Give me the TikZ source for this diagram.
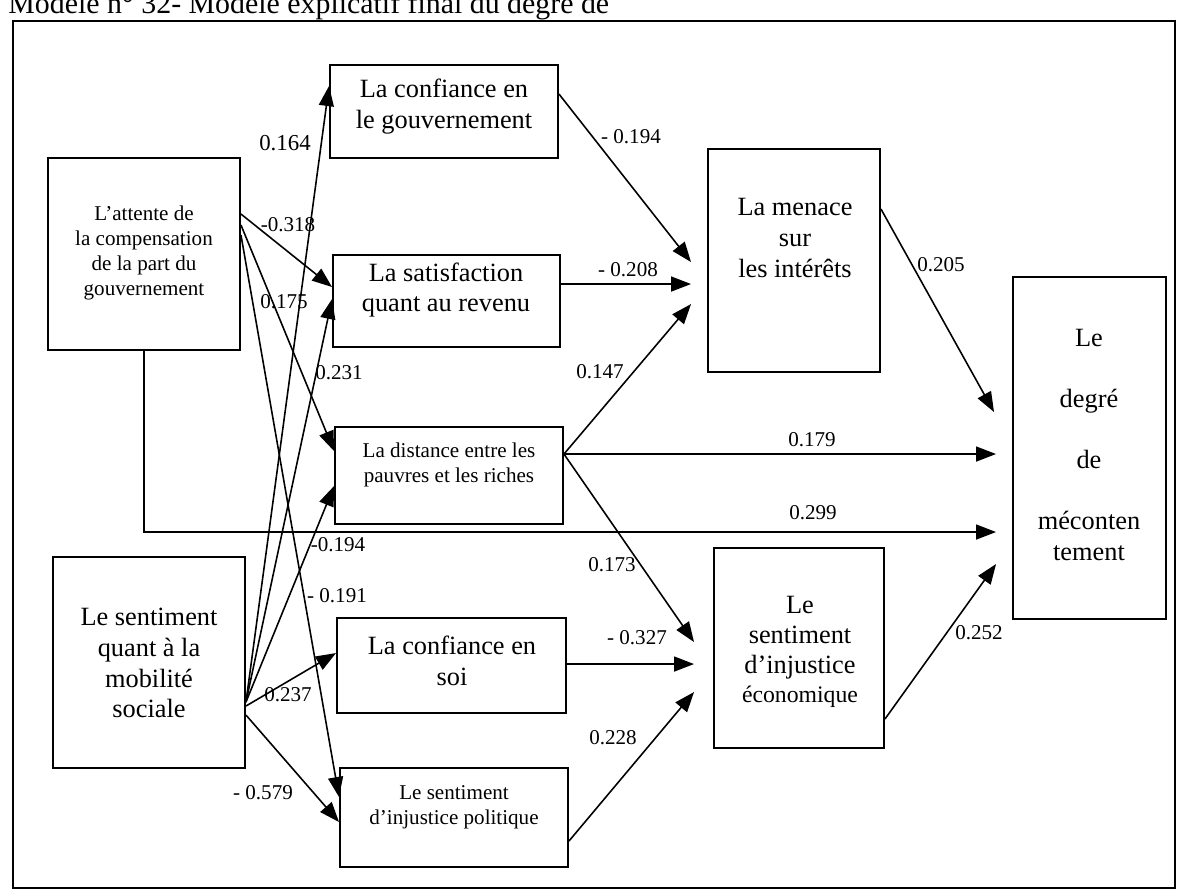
\documentclass[tikz,border=0pt]{standalone}
\usepackage{fontspec}
\setmainfont{Liberation Serif}
\usetikzlibrary{arrows.meta,fit,calc}
\begin{document}
\begin{tikzpicture}[x=0.02cm,y=-0.02cm,
  box/.style={draw,line width=1.1pt,inner sep=0pt},
  big/.style={font=\fontsize{15}{17.6}\selectfont,align=center,inner sep=0pt},
  small/.style={font=\fontsize{12}{14.2}\selectfont,align=center,inner sep=0pt},
  lab/.style={font=\fontsize{12}{14}\selectfont,inner sep=0pt},
  arr/.style={line width=0.9pt,-{Triangle[length=0.4cm,width=0.3cm]}},
]
\useasboundingbox (0,0) rectangle (1181,896);
% caption (cut at the top)
\node[anchor=base west,inner sep=0pt,font=\fontsize{17}{20}\selectfont] (cap) at (8,13) {Modèle n° 32- Modèle explicatif final du degré de};
% frame
\node[box,line width=1.4pt,fit={(13,21)(1175,888)}] (frame) {};
% boxes
\node[box,fit={(48,158)(240,350)}] (A) {};
\node[box,fit={(53,557)(245,768)}] (B) {};
\node[box,fit={(330,65)(558,158)}] (C1) {};
\node[box,fit={(333,255)(560,347)}] (C2) {};
\node[box,fit={(335,427)(563,524)}] (C3) {};
\node[box,fit={(337,618)(566,713)}] (C4) {};
\node[box,fit={(340,768)(568,867)}] (C5) {};
\node[box,fit={(708,149)(880,372)}] (D1) {};
\node[box,fit={(714,548)(884,748)}] (D2) {};
\node[box,fit={(1013,277)(1166,619)}] (E) {};
% texts
\node[small] (At) at (144,253) {L’attente de\\la compensation\\de la part du\\gouvernement};
\node[big] (Bt) at (149,663) {Le sentiment\\quant à la\\mobilité\\sociale};
\node[big] (C1t) at (444,107) {La confiance en\\le gouvernement};
\node[big] (C2t) at (446,290) {La satisfaction\\quant au revenu};
\node[small] (C3t) at (449,465) {La distance entre les\\pauvres et les riches};
\node[big] (C4t) at (452,661) {La confiance en\\soi};
\node[small] (C5t) at (454,807) {Le sentiment\\d’injustice politique};
\node[big] (D1t) at (795,238) {La menace\\sur\\les intérêts};
\node[big,font=\fontsize{15}{17}\selectfont] (D2t) at (800,652) {Le\\sentiment\\d’injustice\\{\fontsize{13.5}{17}\selectfont économique}};
\node[big] (Et) at (1089,445) {Le\\[17pt]degré\\[17pt]de\\[17pt]méconten\\tement};
% arrows from A
\draw[arr] ($(A.north east)+(0,57)$) -- ($(C2.north west)+(0,33)$);
\draw[arr] ($(A.north east)+(0,68)$) -- ($(C3.north west)+(0,25)$);
\draw[arr] ($(A.north east)+(0,78)$) -- ($(C5.north west)+(0,30)$);
% arrows from B
\draw[arr] ($(B.north east)+(0,146)$) -- ($(C1.north west)+(0,22)$);
\draw[arr] ($(B.north east)+(0,146)$) -- ($(C2.north west)+(0,45)$);
\draw[arr] ($(B.north east)+(0,146)$) -- ($(C3.north west)+(0,60)$);
\draw[arr] ($(B.north east)+(0,150)$) -- ($(C4.north west)+(0,36)$);
\draw[arr] ($(B.north east)+(0,159)$) -- ($(C5.north west)+(0,55)$);
% middle arrows
\draw[arr] ($(C1.north east)+(0,30)$) -- ($(D1.north west)+(-16,114)$);
\draw[arr] ($(C2.north east)+(0,30)$) -- ($(D1.north west)+(-16,136)$);
\draw[arr] ($(C3.north east)+(0,28)$) -- ($(D1.north west)+(-16,156)$);
\draw[arr] ($(C3.north east)+(0,28)$) -- ($(E.north west)+(-16,178)$);
\draw[arr] ($(C3.north east)+(0,28)$) -- ($(D2.north west)+(-19,95)$);
\draw[arr] ($(C4.north east)+(0,47)$) -- ($(D2.north west)+(-19,117)$);
\draw[arr] ($(C5.north east)+(0,74)$) -- ($(D2.north west)+(-19,145)$);
\draw[arr] ($(D1.north east)+(0,61)$) -- ($(E.north west)+(-18,136)$);
\draw[arr] ($(D2.north east)+(0,172)$) -- ($(E.north west)+(-16,288)$);
\coordinate (aeTip) at ($(E.north west)+(-16,256)$);
\draw[arr] (A.south) -- (A.south |- aeTip) -- (aeTip);
% labels
\node[lab] (l1) at (288,225) {-0.318};
\node[lab] (l2) at (284,302) {0.175};
\node[lab,font=\fontsize{13}{15}\selectfont] (l3) at (285,143) {0.164};
\node[lab] (l4) at (339,373) {0.231};
\node[lab] (l5) at (338,545) {-0.194};
\node[lab] (l6) at (337,596) {- 0.191};
\node[lab] (l7) at (288,695) {0.237};
\node[lab] (l8) at (263,793) {- 0.579};
\node[lab] (l9) at (631,137) {- 0.194};
\node[lab] (l10) at (628,270) {- 0.208};
\node[lab] (l11) at (600,372) {0.147};
\node[lab] (l12) at (812,440) {0.179};
\node[lab] (l13) at (813,513) {0.299};
\node[lab] (l14) at (612,565) {0.173};
\node[lab] (l15) at (637,638) {- 0.327};
\node[lab] (l16) at (613,738) {0.228};
\node[lab] (l17) at (941,265) {0.205};
\node[lab] (l18) at (979,633) {0.252};
\end{tikzpicture}
\end{document}
